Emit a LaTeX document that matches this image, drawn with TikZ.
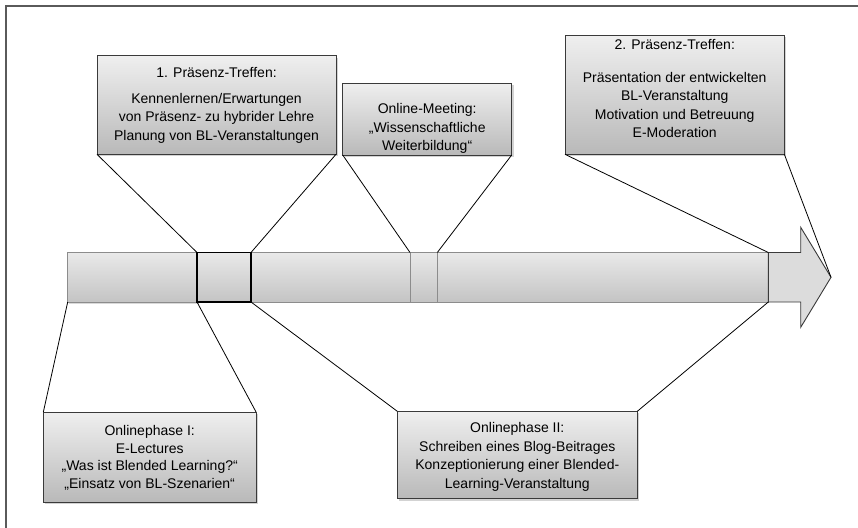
\documentclass[tikz,border=0pt]{standalone}
\usepackage{fontspec}
\setmainfont{Liberation Sans}
\usetikzlibrary{shadows}
\definecolor{frame}{HTML}{5A5A5A}
\definecolor{boxline}{HTML}{3A3A3A}
\definecolor{segline}{HTML}{8C8C8C}
\definecolor{boxtop}{HTML}{EFEFEF}
\definecolor{boxbot}{HTML}{B9B9B9}
\definecolor{bartop}{HTML}{E9E9E9}
\definecolor{barbot}{HTML}{C4C4C4}
\definecolor{headfill}{HTML}{DCDCDC}
\tikzset{
  callout/.style={draw=boxline, line width=0.9pt, top color=boxtop, bottom color=boxbot,
    inner sep=0pt, outer sep=0pt,
    drop shadow={shadow xshift=2pt, shadow yshift=-2pt, opacity=0.35}},
  seg/.style={draw=segline, line width=0.9pt, top color=bartop, bottom color=barbot,
    inner sep=0pt, outer sep=0pt, minimum height=49.5pt},
  darkseg/.style={seg, draw=black, line width=1.4pt},
  txt/.style={align=center, inner sep=0pt, font=\fontsize{14}{18.5}\selectfont},
  conn/.style={draw=black, line width=0.8pt}
}
\begin{document}
\begin{tikzpicture}[x=1pt, y=-1pt]
\useasboundingbox (0,0) rectangle (858,527);
% outer frame
\draw[frame, line width=1.3pt] (6,530) -- (6,6) -- (861,6);

% timeline bar
\node[seg, minimum width=129.3pt, drop shadow={shadow xshift=1.5pt, shadow yshift=-1.5pt, opacity=0.3}] (s1) at (132.35,277.25) {};
\node[seg, minimum width=159pt] (s3) at (330.5,277.25) {};
\node[seg, minimum width=27.3pt] (s4) at (423.65,277.25) {};
\node[seg, minimum width=331pt] (s5) at (602.8,277.25) {};
\node[darkseg, minimum width=54pt] (s2) at (224,277.25) {};
% arrow head
\coordinate (hbase) at (768.3,252.5);
\coordinate (tip) at (831,277.3);
\draw[draw=boxline, line width=0.9pt, fill=headfill]
  (768.3,252.5) -- (800.7,252.5) -- (800.7,227.3) -- (tip) -- (800.7,327.3)
  -- (800.7,302) -- (768.3,302) -- cycle;

% callout boxes
\node[callout, minimum width=239pt, minimum height=98.6pt] (b1) at (216.5,105) {};
\node[callout, minimum width=169pt, minimum height=72pt] (b2) at (427.2,119) {};
\node[callout, minimum width=219.3pt, minimum height=119.3pt] (b3) at (674.7,94.7) {};
\node[callout, minimum width=212.7pt, minimum height=90pt] (b4) at (149.7,457) {};
\node[callout, minimum width=240pt, minimum height=87.4pt] (b5) at (517.3,455) {};

% texts
\node[txt] (t1) at (216.5,105.5) {1. Präsenz-Treffen:\\[7pt]Kennenlernen/Erwartungen\\von Präsenz- zu hybrider Lehre\\Planung von BL-Veranstaltungen};
\node[txt] (t2) at (427.2,128.5) {Online-Meeting:\\„Wissenschaftliche\\Weiterbildung“};
\node[txt] (t3) at (674.7,89) {2. Präsenz-Treffen:\\[14pt]Präsentation der entwickelten\\BL-Veranstaltung\\Motivation und Betreuung\\E-Moderation};
\node[txt, font=\fontsize{14}{17.5}\selectfont] (t4) at (149.7,458) {Onlinephase I:\\E-Lectures\\„Was ist Blended Learning?“\\„Einsatz von BL-Szenarien“};
\node[txt] (t5) at (517.3,457) {Onlinephase II:\\Schreiben eines Blog-Beitrages\\Konzeptionierung einer Blended-\\Learning-Veranstaltung};

% connectors
\draw[conn] (b1.south west) -- (s2.north west);
\draw[conn] (b1.south east) -- (s2.north east);
\draw[conn] (b2.south west) -- (s4.north west);
\draw[conn] (b2.south east) -- (s4.north east);
\draw[conn] (b3.south west) -- (hbase);
\draw[conn] (b3.south east) -- (tip);
\draw[conn] (b4.north west) -- (s1.south west);
\draw[conn] (b4.north east) -- (s2.south west);
\draw[conn] (b5.north west) -- (s2.south east);
\draw[conn] (b5.north east) -- (s5.south east);
\end{tikzpicture}
\end{document}
